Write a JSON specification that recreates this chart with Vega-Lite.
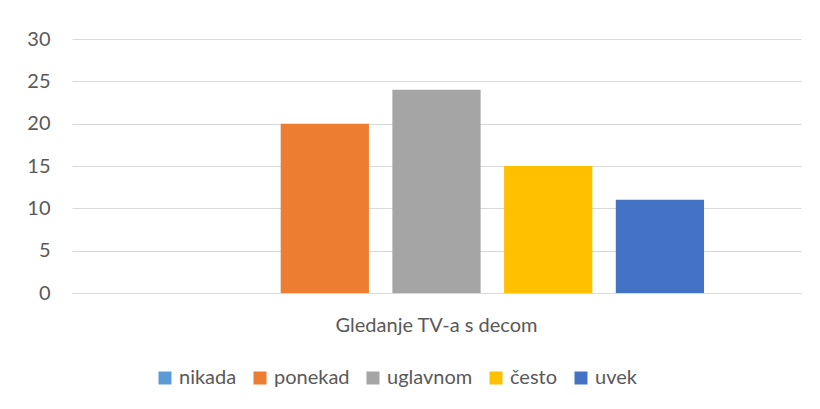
{
  "$schema": "https://vega.github.io/schema/vega-lite/v6.json",
  "autosize": {"type": "none"},
  "width": 729,
  "height": 254,
  "padding": {"left": 72, "top": 39, "right": 19, "bottom": 116},
  "background": "white",
  "data": {
    "values": [
      {"kategorija": "Gledanje TV-a s decom", "odgovor": "nikada", "vrednost": 0},
      {"kategorija": "Gledanje TV-a s decom", "odgovor": "ponekad", "vrednost": 20},
      {"kategorija": "Gledanje TV-a s decom", "odgovor": "uglavnom", "vrednost": 24},
      {"kategorija": "Gledanje TV-a s decom", "odgovor": "često", "vrednost": 15},
      {"kategorija": "Gledanje TV-a s decom", "odgovor": "uvek", "vrednost": 11}
    ]
  },
  "mark": {"type": "bar"},
  "encoding": {
    "x": {
      "field": "kategorija",
      "type": "nominal",
      "scale": {"paddingInner": 0, "paddingOuter": 0},
      "axis": {
        "title": null,
        "labelAngle": 0,
        "labelLimit": 0,
        "ticks": false,
        "domain": true,
        "domainColor": "#d9d9d9",
        "domainWidth": 1,
        "labelPadding": 22,
        "labelFontSize": 20,
        "labelColor": "#595959",
        "labelFont": "Lato"
      }
    },
    "xOffset": {
      "field": "odgovor",
      "type": "nominal",
      "sort": ["nikada", "ponekad", "uglavnom", "često", "uvek"],
      "scale": {"paddingInner": 0.21, "paddingOuter": 0.868}
    },
    "y": {
      "field": "vrednost",
      "type": "quantitative",
      "scale": {"domain": [0, 30], "nice": false},
      "axis": {
        "title": null,
        "values": [0, 5, 10, 15, 20, 25, 30],
        "ticks": false,
        "domain": false,
        "gridColor": "#d9d9d9",
        "gridWidth": 1,
        "labelPadding": 22,
        "labelFontSize": 20,
        "labelColor": "#595959",
        "labelFont": "Lato"
      }
    },
    "color": {
      "field": "odgovor",
      "type": "nominal",
      "sort": ["nikada", "ponekad", "uglavnom", "često", "uvek"],
      "scale": {
        "domain": ["nikada", "ponekad", "uglavnom", "često", "uvek"],
        "range": ["#5B9BD5", "#ED7D31", "#A5A5A5", "#FFC000", "#4472C4"]
      },
      "legend": {
        "title": null,
        "orient": "none",
        "direction": "horizontal",
        "legendX": 83,
        "legendY": 329,
        "symbolType": "square",
        "symbolSize": 169,
        "symbolStrokeWidth": 0,
        "symbolOpacity": 1,
        "labelFontSize": 20,
        "labelFont": "Lato",
        "labelColor": "#595959",
        "labelOffset": 4,
        "columnPadding": 13
      }
    }
  },
  "config": {
    "view": {"stroke": null},
    "font": "Lato"
  }
}
